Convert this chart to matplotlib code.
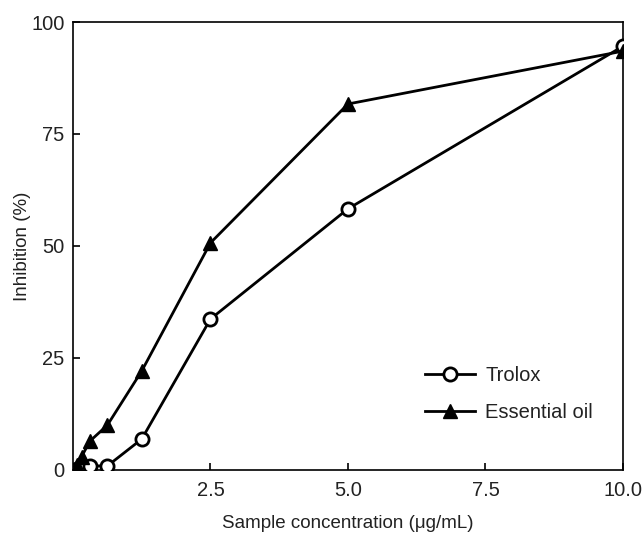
import matplotlib.pyplot as plt

plt.rcParams['font.family'] = ['Liberation Sans', 'DejaVu Sans']
plt.rcParams['text.color'] = '#222222'
plt.rcParams['xtick.labelcolor'] = '#222222'
plt.rcParams['ytick.labelcolor'] = '#222222'
plt.rcParams['axes.labelcolor'] = '#222222'

conc = [0.078, 0.156, 0.3125, 0.625, 1.25, 2.5, 5.0, 10.0]
trolox = [0.3, 0.6, 0.9, 0.9, 6.9, 33.7, 58.3, 94.6]
oil = [1.2, 3.0, 6.5, 10.0, 22.1, 50.7, 81.7, 93.5]

fig = plt.figure(figsize=(6.42, 5.34), dpi=100)
ax = fig.add_axes([0.1137, 0.1199, 0.8567, 0.8389])

ax.plot(conc, trolox, color='black', lw=2, marker='o', ms=9.5,
        mfc='white', mec='black', mew=2, label='Trolox', zorder=3)
ax.plot(conc, oil, color='black', lw=2, marker='^', ms=10,
        mfc='black', mec='black', label='Essential oil', zorder=4)

ax.set_xlim(0, 10)
ax.set_ylim(0, 100)
ax.set_xticks([2.5, 5.0, 7.5, 10.0])
ax.set_xticklabels(['2.5', '5.0', '7.5', '10.0'])
ax.set_yticks([0, 25, 50, 75, 100])
ax.tick_params(direction='in', length=5, width=1.2, labelsize=14.5, pad=6)
ax.tick_params(axis='x', pad=8)
for s in ax.spines.values():
    s.set_linewidth(1.2)

ax.set_xlabel('Sample concentration (μg/mL)', fontsize=13.5, labelpad=11)
ax.set_ylabel('Inhibition (%)', fontsize=13.5)
ax.yaxis.set_label_coords(-0.076, 0.5)

ax.legend(loc='center left', bbox_to_anchor=(0.64, 0.17), frameon=False,
          fontsize=14.5, handlelength=2.5, handletextpad=0.5,
          labelspacing=0.9, borderpad=0, borderaxespad=0)

fig.savefig('out.png', dpi=100)
